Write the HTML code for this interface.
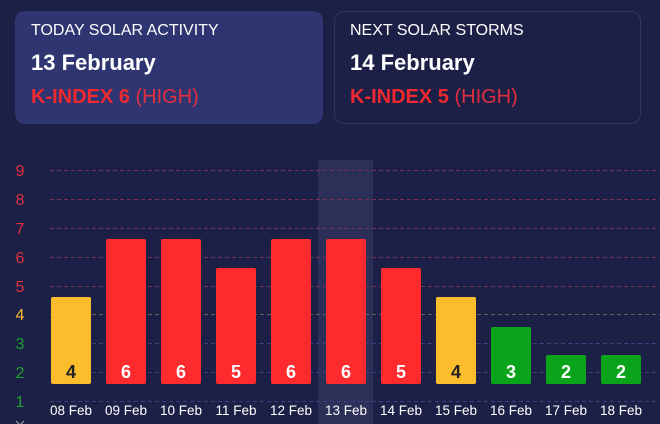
<!DOCTYPE html><html><head><style>
body{margin:0;width:660px;height:424px;overflow:hidden;background:#1c2046;font-family:"Liberation Sans",sans-serif;position:relative}
.card{position:absolute;top:11px;height:113px;border-radius:10px;box-sizing:border-box;padding:10px 16px}
.t{color:#fff;font-size:16px;margin-top:1px}
.d{color:#fff;font-size:22px;font-weight:bold;margin-top:10px}
.k{color:#f0282f;font-size:20px;margin-top:10px}
.k b{font-weight:bold}.k span{color:#e03040}
</style></head><body>
<div class="card" style="left:15px;width:308px;background:#2e3570"><div class="t">TODAY SOLAR ACTIVITY</div><div class="d">13 February</div><div class="k"><b>K-INDEX 6</b> <span>(HIGH)</span></div></div>
<div class="card" style="left:334px;width:307px;border:1px solid #2f3668;padding:9px 15px"><div class="t">NEXT SOLAR STORMS</div><div class="d">14 February</div><div class="k"><b>K-INDEX 5</b> <span>(HIGH)</span></div></div>
<svg width="660" height="424" style="position:absolute;left:0;top:0" font-family="Liberation Sans, sans-serif">
<rect x="318" y="160" width="55" height="264" fill="#2c3058"/>
<g stroke-dasharray="4,3" stroke-width="1">
<line x1="50" x2="660" y1="170.5" y2="170.5" stroke="#7a3050"/>
<line x1="50" x2="660" y1="199.5" y2="199.5" stroke="#7a3050"/>
<line x1="50" x2="660" y1="228.5" y2="228.5" stroke="#7a3050"/>
<line x1="50" x2="660" y1="257.5" y2="257.5" stroke="#7a3050"/>
<line x1="50" x2="660" y1="286.5" y2="286.5" stroke="#7a3050"/>
<line x1="50" x2="660" y1="314.5" y2="314.5" stroke="#6b6050"/>
<line x1="50" x2="660" y1="343.5" y2="343.5" stroke="#3a4080"/>
<line x1="50" x2="660" y1="372.5" y2="372.5" stroke="#3a4080"/>
<line x1="50" x2="660" y1="401.5" y2="401.5" stroke="#3a4080"/>
</g>
<g font-size="16" text-anchor="middle">
<text x="20" y="176" fill="#e03040">9</text><text x="20" y="205" fill="#e03040">8</text><text x="20" y="234" fill="#e03040">7</text><text x="20" y="263" fill="#e03040">6</text><text x="20" y="292" fill="#e03040">5</text><text x="20" y="320" fill="#f5b830">4</text><text x="20" y="349" fill="#1fa030">3</text><text x="20" y="378" fill="#1fa030">2</text><text x="20" y="407" fill="#1fa030">1</text>
</g>
<g>
<rect x="51" y="297" width="40" height="87" rx="2" fill="#fbbd2c"/>
<rect x="106" y="239" width="40" height="145" rx="2" fill="#fd2b2e"/>
<rect x="161" y="239" width="40" height="145" rx="2" fill="#fd2b2e"/>
<rect x="216" y="268" width="40" height="116" rx="2" fill="#fd2b2e"/>
<rect x="271" y="239" width="40" height="145" rx="2" fill="#fd2b2e"/>
<rect x="326" y="239" width="40" height="145" rx="2" fill="#fd2b2e"/>
<rect x="381" y="268" width="40" height="116" rx="2" fill="#fd2b2e"/>
<rect x="436" y="297" width="40" height="87" rx="2" fill="#fbbd2c"/>
<rect x="491" y="327" width="40" height="57" rx="2" fill="#0aa41a"/>
<rect x="546" y="355" width="40" height="29" rx="2" fill="#0aa41a"/>
<rect x="601" y="355" width="40" height="29" rx="2" fill="#0aa41a"/>
</g>
<g font-size="18" font-weight="bold" text-anchor="middle" fill="#fff">
<text x="71" y="378" fill="#222">4</text><text x="126" y="378">6</text><text x="181" y="378">6</text><text x="236" y="378">5</text><text x="291" y="378">6</text><text x="346" y="378">6</text><text x="401" y="378">5</text><text x="456" y="378" fill="#222">4</text><text x="511" y="378">3</text><text x="566" y="378">2</text><text x="621" y="378">2</text>
</g>
<g font-size="13.5" text-anchor="middle" fill="#fff">
<text x="71" y="415">08 Feb</text><text x="126" y="415">09 Feb</text><text x="181" y="415">10 Feb</text><text x="236" y="415">11 Feb</text><text x="291" y="415">12 Feb</text><text x="346" y="415">13 Feb</text><text x="401" y="415">14 Feb</text><text x="456" y="415">15 Feb</text><text x="511" y="415">16 Feb</text><text x="566" y="415">17 Feb</text><text x="621" y="415">18 Feb</text>
</g>
<path d="M16 421 L20 425 L24 421" stroke="#aab" fill="none"/>
</svg>
</body></html>
